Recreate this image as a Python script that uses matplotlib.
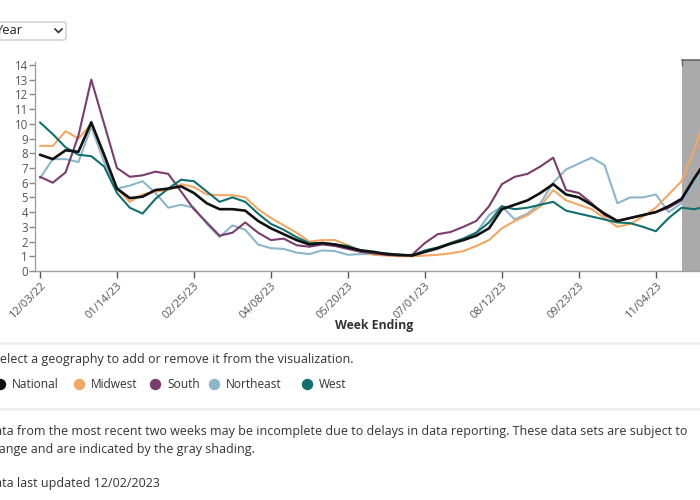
import matplotlib
matplotlib.use("Agg")
import matplotlib.pyplot as plt
from matplotlib.lines import Line2D
from matplotlib.patches import Rectangle, FancyBboxPatch
import pandas as pd

plt.rcParams["font.family"] = ["Open Sans", "DejaVu Sans"]

# weekly values, week ending 12/03/22 .. 12/02/23
week_start = "2022-12-03"
national = [7.9, 7.6, 8.2, 8.1, 10.1, 7.9, 5.6, 4.95, 5.05, 5.5, 5.6, 5.75, 5.3,
            4.6, 4.2, 4.2, 4.1, 3.4, 2.9, 2.5, 2.1, 1.8, 1.9, 1.8, 1.6, 1.4,
            1.3, 1.15, 1.1, 1.05, 1.3, 1.55, 1.85, 2.1, 2.4, 2.9, 4.2, 4.5, 4.8,
            5.3, 5.9, 5.2, 5.0, 4.5, 3.9, 3.4, 3.6, 3.8, 4.0, 4.4, 4.9, 6.3, 7.6]
midwest = [8.5, 8.5, 9.5, 9.0, 10.0, 7.9, 5.6, 4.7, 5.2, 5.4, 5.5, 5.9, 5.7,
           5.2, 5.15, 5.15, 5.0, 4.2, 3.6, 3.1, 2.6, 2.0, 2.1, 2.1, 1.75, 1.35,
           1.1, 1.05, 1.0, 1.0, 1.05, 1.1, 1.2, 1.35, 1.7, 2.1, 2.9, 3.4, 3.8,
           4.4, 5.5, 4.8, 4.5, 4.2, 3.6, 3.0, 3.2, 3.7, 4.3, 5.2, 6.1, 8.3, 10.8]
south = [6.4, 6.0, 6.7, 9.2, 13.0, 10.0, 7.0, 6.4, 6.5, 6.75, 6.6, 5.4, 4.2,
         3.3, 2.4, 2.6, 3.3, 2.6, 2.1, 2.2, 1.75, 1.65, 1.8, 1.7, 1.5, 1.3,
         1.2, 1.1, 1.05, 1.1, 1.9, 2.5, 2.65, 3.0, 3.4, 4.4, 5.9, 6.4, 6.6,
         7.1, 7.7, 5.5, 5.3, 4.6, 3.8, 3.4, 3.6, 3.8, 4.0, 4.3, 4.8, 6.3, 7.6]
northeast = [6.3, 7.6, 7.6, 7.4, 9.8, 7.4, 5.6, 5.8, 6.1, 5.3, 4.3, 4.5, 4.3,
             3.2, 2.3, 3.1, 2.8, 1.8, 1.55, 1.5, 1.25, 1.15, 1.4, 1.35, 1.1, 1.15,
             1.15, 1.1, 1.05, 1.05, 1.3, 1.5, 1.9, 2.2, 2.6, 3.8, 4.4, 3.5, 3.9,
             4.6, 6.0, 6.9, 7.3, 7.7, 7.2, 4.6, 5.0, 5.0, 5.2, 4.0, 4.6, 6.0, 7.0]
west = [10.1, 9.3, 8.4, 7.9, 7.8, 7.1, 5.3, 4.3, 3.9, 4.9, 5.6, 6.2, 6.1,
        5.4, 4.7, 5.0, 4.7, 3.9, 3.2, 2.8, 2.3, 1.9, 1.9, 1.8, 1.7, 1.4,
        1.25, 1.2, 1.1, 1.05, 1.4, 1.6, 1.9, 2.2, 2.6, 3.3, 4.4, 4.2, 4.3,
        4.5, 4.7, 4.1, 3.9, 3.7, 3.5, 3.3, 3.25, 3.0, 2.7, 3.6, 4.3, 4.2, 4.4]

series_names = ["Northeast", "Midwest", "South", "West", "National"]
series_values = [northeast, midwest, south, west, national]
legend_order = ["National", "Midwest", "South", "Northeast", "West"]
colors = {
    "National": "#111111",
    "Midwest": "#f2a765",
    "South": "#7a3d6c",
    "Northeast": "#8cb7ca",
    "West": "#11706f",
}
tick_labels = ["12/03/22", "01/14/23", "02/25/23", "04/08/23", "05/20/23",
               "07/01/23", "08/12/23", "09/23/23", "11/04/23"]
shade_start = "2023-11-18"

W, H = 700, 500


def fx(x):
    return x / W


def fy(y):
    return 1 - y / H


def main() -> None:
    dates = pd.date_range(week_start, periods=len(national), freq="7D")
    fig = plt.figure(figsize=(7, 5), dpi=100)
    fig.patch.set_facecolor("white")

    # plot area, the right edge runs past the screenshot crop
    ax_left, ax_right, ax_top, ax_bottom = 35, 720, 62, 271
    ax = fig.add_axes([fx(ax_left), fy(ax_bottom), fx(ax_right) - fx(ax_left),
                       fy(ax_top) - fy(ax_bottom)])
    x0 = pd.Timestamp(week_start)
    ax.set_xlim(x0 - pd.Timedelta(days=2.7), x0 + pd.Timedelta(days=371))
    ax.set_ylim(0, 14.2)

    shade = pd.Timestamp(shade_start)
    ax.add_patch(Rectangle((shade, 0), pd.Timedelta(days=30), 14.35,
                           facecolor="#aaaaaa", edgecolor="none", zorder=1,
                           clip_on=False))
    ax.plot([shade, shade + pd.Timedelta(days=30)], [14.35, 14.35],
            color="#666666", lw=1.2, clip_on=False, zorder=1)
    ax.plot([shade, shade], [14.0, 14.35], color="#666666", lw=1.0,
            clip_on=False, zorder=1)

    for name, vals in zip(series_names, series_values):
        lw = 1.9 if name == "National" else 1.5
        ax.plot(dates, vals, color=colors[name], lw=lw, zorder=3,
                solid_joinstyle="round", solid_capstyle="round")

    for side in ("top", "right"):
        ax.spines[side].set_visible(False)
    for side in ("left", "bottom"):
        ax.spines[side].set_color("#a0a0a0")
        ax.spines[side].set_linewidth(1.0)

    ax.set_yticks(range(0, 15))
    ax.tick_params(axis="y", length=4, width=1, color="#888888",
                   labelsize=8.3, labelcolor="#555555", pad=1)
    tick_dates = [pd.to_datetime(t, format="%m/%d/%y") for t in tick_labels]
    ax.set_xticks(tick_dates)
    ax.set_xticklabels(tick_labels)
    ax.tick_params(axis="x", length=5, width=1, color="#555555",
                   labelsize=8, labelcolor="#555555", pad=2)
    for lab in ax.get_xticklabels():
        lab.set_rotation(45)
        lab.set_ha("right")
        lab.set_rotation_mode("anchor")

    # axis title placed in pixels
    fig.text(fx(374), fy(325), "Week Ending", fontsize=8.8, fontweight="bold",
             color="#333333", ha="center", va="center")

    # "Year" dropdown, cut off at the left
    fig.patches.append(FancyBboxPatch((fx(-8), fy(40)), fx(74), fy(22) - fy(40),
                                      boxstyle="round,pad=0,rounding_size=0.004",
                                      transform=fig.transFigure,
                                      facecolor="white", edgecolor="#cccccc", lw=1))
    fig.text(fx(-4), fy(31), "Year", fontsize=9.3, color="#222222", va="center")
    fig.lines.append(Line2D([fx(55), fx(58.5), fx(62)], [fy(29), fy(32.5), fy(29)],
                            transform=fig.transFigure, color="#333333", lw=1.2))

    # separators
    for y in (343, 409):
        fig.lines.append(Line2D([0, 1], [fy(y), fy(y)], transform=fig.transFigure,
                                color="#eeeeee", lw=2))

    text_color = "#333333"
    note_size = 9.0
    fig.text(fx(-7), fy(360), "Select a geography to add or remove it from the visualization.",
             fontsize=note_size, color=text_color, va="center")

    legend_x = {"National": 0, "Midwest": 79, "South": 155, "Northeast": 214, "West": 307}
    for name in legend_order:
        lx = legend_x[name]
        fig.lines.append(Line2D([fx(lx)], [fy(384)], transform=fig.transFigure,
                                marker="o", markersize=7.2, color=colors[name],
                                linestyle="none"))
        fig.text(fx(lx + 12), fy(384), name, fontsize=8.6, color=text_color,
                 va="center")

    fig.text(fx(-14), fy(432),
             "Data from the most recent two weeks may be incomplete due to delays in "
             "data reporting. These data sets are subject to",
             fontsize=note_size, color=text_color, va="center")
    fig.text(fx(-15), fy(449), "change and are indicated by the gray shading.",
             fontsize=note_size, color=text_color, va="center")
    fig.text(fx(-14), fy(483), "Data last updated 12/02/2023",
             fontsize=note_size, color=text_color, va="center")

    fig.savefig("out.png", dpi=100)
    plt.close(fig)


if __name__ == "__main__":
    main()
